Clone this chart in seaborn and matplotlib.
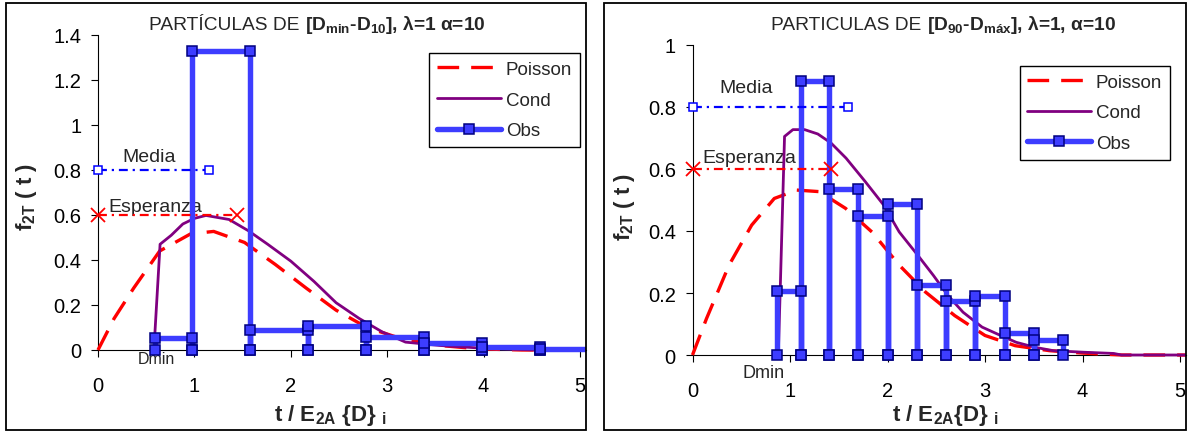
import matplotlib
matplotlib.use("Agg")
import matplotlib.pyplot as plt
import seaborn as sns
from matplotlib.patches import Rectangle
from matplotlib.transforms import Bbox, TransformedBbox

sns.set_theme(style="white")
plt.rcParams["font.family"] = ["Liberation Sans", "DejaVu Sans"]
plt.rcParams["mathtext.default"] = "regular"

# ---------------- data: particles [Dmin - D10] ----------------
left_poisson_t = [0, 0.167, 0.37, 0.64, 0.96, 1.2, 1.52, 1.84, 2.16, 2.47, 2.79, 3.15, 3.55, 3.95, 4.4, 5.1]
left_poisson_f = [0, 0.14, 0.275, 0.44, 0.516, 0.527, 0.478, 0.38, 0.275, 0.177, 0.10, 0.05, 0.02, 0.005, 0.0, 0.0]
left_cond_t = [0.58, 0.644, 0.76, 0.88, 1.0, 1.12, 1.36, 1.56, 1.76, 2.0, 2.24, 2.47, 2.71, 2.95, 3.19, 3.55, 3.99, 4.54, 5.1]
left_cond_f = [0.0, 0.47, 0.51, 0.56, 0.585, 0.598, 0.58, 0.53, 0.47, 0.395, 0.305, 0.21, 0.14, 0.08, 0.035, 0.02, 0.008, 0.0, 0.0]
left_obs_edges = [0.59, 0.98, 1.58, 2.18, 2.78, 3.38, 3.98, 4.58, 5.18]
left_obs_f = [0.054, 1.327, 0.090, 0.105, 0.056, 0.030, 0.014, 0.005]
left_media_t, left_media_f = 1.15, 0.8
left_esper_t, left_esper_f = 1.44, 0.6
left_dmin_t = 0.61
left_yticks = [0, 0.2, 0.4, 0.6, 0.8, 1.0, 1.2, 1.4]
left_ytick_labels = ["0", "0.2", "0.4", "0.6", "0.8", "1", "1.2", "1.4"]

# ---------------- data: particles [D90 - Dmax] ----------------
right_poisson_t = [0, 0.143, 0.375, 0.607, 0.839, 1.07, 1.30, 1.57, 1.84, 2.12, 2.39, 2.69, 3.0, 3.31, 3.66, 4.01, 4.4, 5.1]
right_poisson_f = [0, 0.117, 0.29, 0.419, 0.505, 0.532, 0.527, 0.473, 0.397, 0.29, 0.203, 0.127, 0.063, 0.03, 0.014, 0.006, 0.0, 0.0]
right_cond_t = [0.88, 0.90, 0.944, 1.03, 1.15, 1.285, 1.42, 1.575, 1.77, 1.96, 2.12, 2.31, 2.47, 2.62, 2.775, 2.97, 3.16, 3.32, 3.51, 3.70, 4.01, 4.32, 4.4, 5.1]
right_cond_f = [0.0, 0.214, 0.705, 0.727, 0.727, 0.713, 0.684, 0.635, 0.56, 0.484, 0.397, 0.322, 0.257, 0.192, 0.138, 0.09, 0.063, 0.041, 0.025, 0.014, 0.009, 0.005, 0.0, 0.0]
right_obs_edges = [0.87, 1.11, 1.40, 1.70, 2.00, 2.30, 2.60, 2.90, 3.20, 3.50, 3.80]
right_obs_f = [0.208, 0.883, 0.537, 0.450, 0.487, 0.225, 0.174, 0.191, 0.072, 0.050]
right_media_t, right_media_f = 1.594, 0.8
right_esper_t, right_esper_f = 1.416, 0.6
right_dmin_t = 0.73
right_yticks = [0, 0.2, 0.4, 0.6, 0.8, 1.0]
right_ytick_labels = ["0", "0.2", "0.4", "0.6", "0.8", "1"]

xticks = [0, 1, 2, 3, 4, 5]
xtick_labels = ["0", "1", "2", "3", "4", "5"]
series_names = ["Poisson", "Cond", "Obs"]

W, H = 1193, 435
fig = plt.figure(figsize=(W / 100, H / 100), dpi=100)


def pix_rect(x0, x1, y_top, y_bot):
    return [x0 / W, 1 - y_bot / H, (x1 - x0) / W, (y_bot - y_top) / H]


def step_points(edges, heights):
    xs, ys = [], []
    for i, h in enumerate(heights):
        xs += [edges[i], edges[i], edges[i + 1], edges[i + 1]]
        ys += [0, h, h, 0]
    return xs, ys


def last_line(ax):
    return ax.lines[-1]


def draw_panel(ax, poisson_t, poisson_f, cond_t, cond_f, edges, obs_f,
               media, esper, ymax, yticks, ytick_labels):
    sns.lineplot(x=poisson_t, y=poisson_f, ax=ax, sort=False, estimator=None,
                 color="#ff0000", linewidth=2.4, zorder=3)
    p_line = last_line(ax)
    p_line.set_dashes((6.5, 3.6))

    sns.lineplot(x=cond_t, y=cond_f, ax=ax, sort=False, estimator=None,
                 color="#800080", linewidth=2.0, zorder=4)
    c_line = last_line(ax)

    ox, oy = step_points(edges, obs_f)
    sns.lineplot(x=ox, y=oy, ax=ax, sort=False, estimator=None,
                 color="#3d3dff", linewidth=3.9, marker="s", markersize=6.8,
                 markerfacecolor="#3d3dff", markeredgecolor="#000080",
                 markeredgewidth=1.1, zorder=5)
    o_line = last_line(ax)

    mt, mf = media
    sns.lineplot(x=[0, mt], y=[mf, mf], ax=ax, sort=False, estimator=None,
                 color="#0000ff", linewidth=1.6, marker="s", markersize=6.2,
                 markerfacecolor="white", markeredgecolor="#0000ff",
                 markeredgewidth=1.1, zorder=6)
    last_line(ax).set_dashes((4, 2.2, 1, 2.2))

    et, ef = esper
    sns.lineplot(x=[0, et], y=[ef, ef], ax=ax, sort=False, estimator=None,
                 color="#ff0000", linewidth=1.6, marker="x", markersize=9.5,
                 markeredgecolor="#ff0000", markeredgewidth=1.3, zorder=6)
    last_line(ax).set_dashes((4, 2.2, 1, 2.2))

    clip = TransformedBbox(Bbox([[-0.03, -0.04], [1.0, 1.03]]), ax.transAxes)
    for ln in ax.lines:
        ln.set_clip_box(clip)

    ax.set_xlim(0, 5.06)
    ax.set_ylim(0, ymax)
    ax.set_xticks(xticks)
    ax.set_xticklabels(xtick_labels)
    ax.set_yticks(yticks)
    ax.set_yticklabels(ytick_labels)
    ax.tick_params(axis="both", direction="out", length=5, width=0.8,
                   colors="black", labelsize=14.5, bottom=True, left=True)
    ax.tick_params(axis="x", pad=14)
    ax.tick_params(axis="y", pad=7)
    for side in ("top", "right"):
        ax.spines[side].set_visible(False)
    for side in ("left", "bottom"):
        ax.spines[side].set_color("black")
        ax.spines[side].set_linewidth(0.8)
    ax.set_facecolor("white")
    return p_line, c_line, o_line


legend_style = dict(loc="upper right", fontsize=13.5, frameon=True, fancybox=False,
                    framealpha=1, edgecolor="black", handlelength=3.4,
                    handletextpad=0.25, labelspacing=0.72, borderpad=0.42,
                    borderaxespad=0)

# ---------------- left panel ----------------
axL = fig.add_axes(pix_rect(98, 98 + 5.06 * 96.4, 36, 351))
hL = draw_panel(axL, left_poisson_t, left_poisson_f, left_cond_t, left_cond_f,
                left_obs_edges, left_obs_f, (left_media_t, left_media_f),
                (left_esper_t, left_esper_f), 1.4, left_yticks, left_ytick_labels)
axL.text(0.25, 0.84, "Media", fontsize=14, ha="left", va="baseline")
axL.text(0.11, 0.617, "Esperanza", fontsize=14, ha="left", va="baseline")
axL.text(left_dmin_t, -0.004, "Dmin", fontsize=11.5, ha="center", va="top")
axL.set_xlabel("t / E$_{2A}$ {D} $_{i}$", fontsize=16, fontweight="bold")
axL.set_ylabel("f$_{2T}$ ( t )", fontsize=16, fontweight="bold")
axL.xaxis.set_label_coords(0.476, -0.165)
axL.yaxis.set_label_coords(-0.12, 0.489)
legL = axL.legend(hL, series_names, bbox_to_anchor=(0.988, 0.943), **legend_style)
legL.get_frame().set_linewidth(1.0)

# ---------------- right panel ----------------
axR = fig.add_axes(pix_rect(692.5, 692.5 + 5.06 * 97.5, 46, 356))
hR = draw_panel(axR, right_poisson_t, right_poisson_f, right_cond_t, right_cond_f,
                right_obs_edges, right_obs_f, (right_media_t, right_media_f),
                (right_esper_t, right_esper_f), 1.0, right_yticks, right_ytick_labels)
axR.text(0.28, 0.848, "Media", fontsize=14, ha="left", va="baseline")
axR.text(0.10, 0.623, "Esperanza", fontsize=14, ha="left", va="baseline")
axR.text(right_dmin_t, -0.029, "Dmin", fontsize=13, ha="center", va="top")
axR.set_xlabel("t / E$_{2A}${D} $_{i}$", fontsize=16, fontweight="bold")
axR.set_ylabel("f$_{2T}$ ( t )", fontsize=16, fontweight="bold")
axR.xaxis.set_label_coords(0.513, -0.152)
axR.yaxis.set_label_coords(-0.112, 0.48)
legR = axR.legend(hR, series_names, bbox_to_anchor=(0.968, 0.933), **legend_style)
legR.get_frame().set_linewidth(1.0)

# ---------------- titles ----------------
ty = 1 - 30 / H
fig.text(299 / W, ty, "PARTÍCULAS DE", fontsize=13.8, ha="right", va="baseline")
fig.text(305 / W, ty, "[D$_{min}$-D$_{10}$], λ=1 α=10", fontsize=13.8,
         fontweight="bold", ha="left", va="baseline")
fig.text(921 / W, ty, "PARTICULAS DE", fontsize=13.8, ha="right", va="baseline")
fig.text(927 / W, ty, "[D$_{90}$-D$_{máx}$], λ=1, α=10", fontsize=13.8,
         fontweight="bold", ha="left", va="baseline")

# ---------------- chart-area frames ----------------
for x0, x1 in ((6, 586), (604, 1186)):
    fig.add_artist(Rectangle((x0 / W, 1 - 431 / H), (x1 - x0) / W, (431 - 4) / H,
                             transform=fig.transFigure, fill=False,
                             edgecolor="black", linewidth=1.3))

fig.savefig("out.png", dpi=100, facecolor="white")
